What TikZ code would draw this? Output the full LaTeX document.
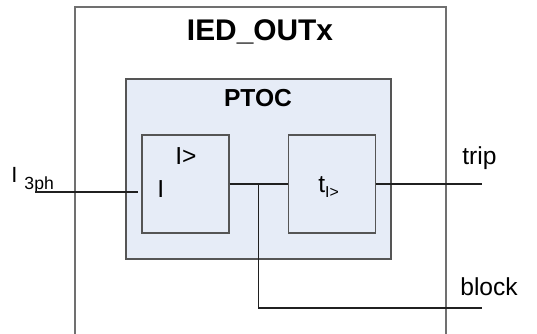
\documentclass[tikz,border=0pt]{standalone}
\usepackage{fontspec}
\setmainfont{Liberation Sans}
\usepackage{tikz}
\usetikzlibrary{
    positioning,
    calc
}
\definecolor{fbfill}{HTML}{E6ECF7}
\definecolor{fbborder}{HTML}{555555}
\definecolor{iedborder}{HTML}{707070}
\definecolor{wirecolor}{HTML}{202020}
\tikzset{
    ied box/.style={
        rectangle, draw=iedborder, line width=0.8pt, fill=white,
        minimum width=7.42cm, minimum height=6.76cm
    },
    fb box/.style={
        rectangle, draw=fbborder, line width=0.7pt, fill=fbfill,
        minimum width=5.3cm, minimum height=3.6cm
    },
    logic box/.style={
        rectangle, draw=fbborder, line width=0.7pt, fill=fbfill,
        minimum width=1.74cm, minimum height=1.96cm
    },
    box title/.style={
        font=\fontsize{#1}{#1}\selectfont\bfseries, inner sep=0pt
    },
    sig label/.style={
        font=\fontsize{14}{16}\selectfont, inner sep=0pt, anchor=base west
    },
    wire/.style={
        draw=wirecolor, line width=0.6pt
    },
}

\begin{document}
\begin{tikzpicture}[x=0.02cm, y=-0.02cm]
    \useasboundingbox (0,0) rectangle (537,334);

    % device and function block
    \node[ied box] (ied) at (260.5,176) {};
    \node[box title=17] (iedl) at (260,32) {IED\_OUTx};
    \node[fb box] (ptoc) at (258.5,169) {};
    \node[box title=14] (ptocl) at (258,98) {PTOC};

    % comparator and timer
    \node[logic box] (cmp) at (185.5,184) {};
    \node[logic box, right=1.16cm of cmp] (tmr) {};
    \node[sig label] (cmpset) at (175,165) {I>};
    \node[sig label] (cmpin) at (157,197) {I};
    \node[sig label] (tmrl) at (318,193) {t\raisebox{-2.5pt}{\fontsize{9}{10}\selectfont I>}};

    % signals
    \coordinate (in) at (35,192);
    \coordinate (jn) at ($(cmp.east)!0.5!(tmr.west)$);
    \coordinate (tripend) at (482,184);
    \coordinate (blkend) at (482,308);
    \node[sig label, font=\fontsize{12.5}{14}\selectfont] (inlbl) at (11,183)
        {I\hspace{4pt}\raisebox{-3.5pt}{\fontsize{10}{12}\selectfont 3ph}};
    \node[sig label] (triplbl) at (462,165) {trip};
    \node[sig label] (blklbl) at (460,295) {block};

    \draw[wire] (in) -- ([xshift=-2pt]in -| cmp.west);
    \draw[wire] (cmp.east) -- (tmr.west);
    \draw[wire] (tmr.east) -- (tripend);
    \draw[wire] (jn) |- (blkend);
\end{tikzpicture}
\end{document}
